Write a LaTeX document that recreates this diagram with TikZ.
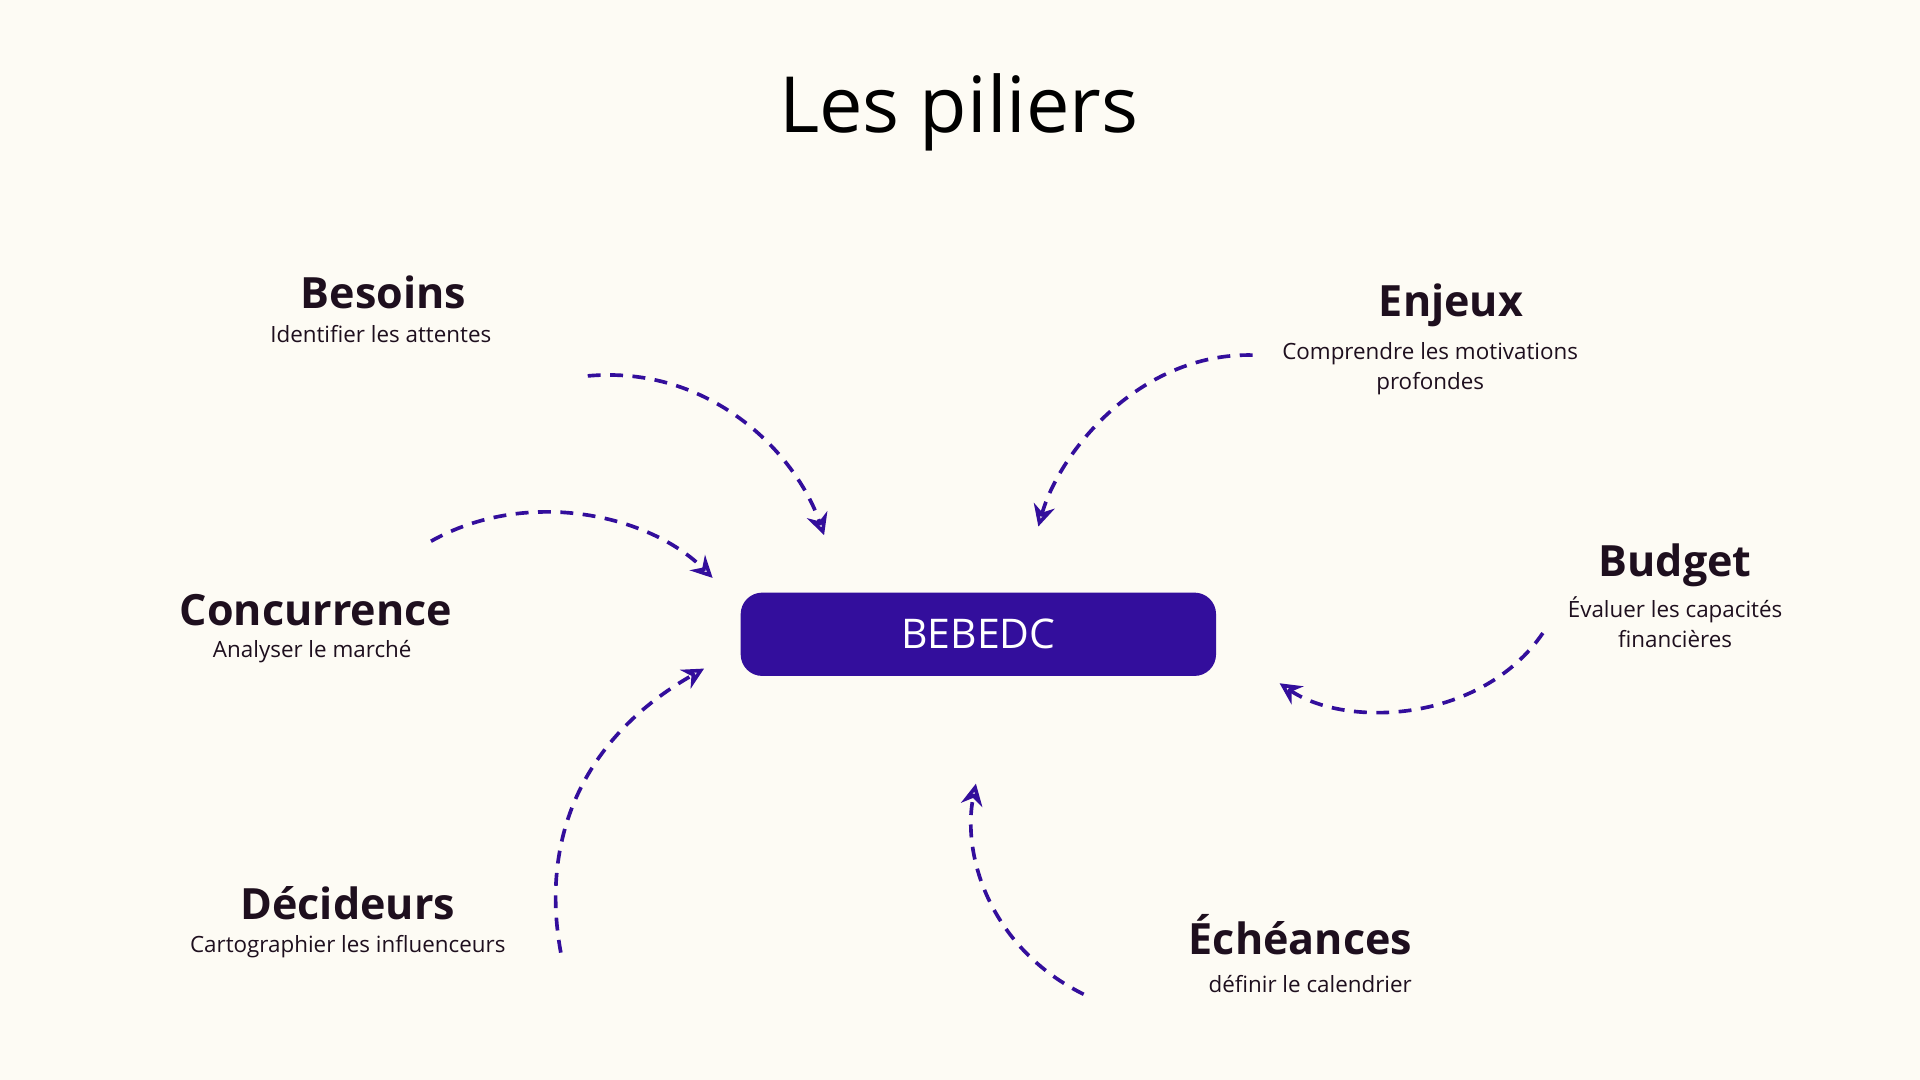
\documentclass[tikz,border=0pt]{standalone}
\usepackage{fontspec}
\setmainfont{Open Sans}
\usepackage{tikz}
\usetikzlibrary{arrows.meta,positioning,calc}
\definecolor{bg}{HTML}{FDFBF4}
\definecolor{ink}{HTML}{1E0F1E}
\definecolor{violet}{HTML}{330E9C}

\begin{document}
\begin{tikzpicture}[x=0.01cm, y=-0.01cm,
    pillar/.style={font=\fontsize{10}{12}\selectfont\bfseries, text=ink, inner sep=0pt},
    sub/.style={font=\fontsize{5.2}{6.9}\selectfont, text=ink, align=center, inner sep=0pt},
    arrow/.style={-{Stealth[open,length=5pt,width=5pt]}, violet, line width=0.85pt, dash pattern=on 3pt off 2.2pt}
]
\fill[bg] (0,0) rectangle (1568,882);
\useasboundingbox (0,0) rectangle (1568,882);

% Title and centre
\node[font=\fontsize{18}{20}\selectfont, text=black] (title) at (783,92) {Les piliers};
\node[fill=violet, rounded corners=5pt, minimum width=3.88cm, minimum height=0.68cm,
      text=white, font=\fontsize{9.5}{11}\selectfont] (core) at (799,518) {BEBEDC};

% Pillars
\node[pillar] (besoins) at (313,239) {Besoins};
\node[sub] (besoinsT) at (311,273) {Identifier les attentes};
\node[pillar] (enjeux) at (1185,249) {Enjeux};
\node[sub] (enjeuxT) at (1168,301) {Comprendre les motivations\\profondes};
\node[pillar] (budget) at (1368,462) {Budget};
\node[sub] (budgetT) at (1368,508) {Évaluer les capacités\\financières};
\node[pillar] (conc) at (258,498) {Concurrence};
\node[sub] (concT) at (255,532) {Analyser le marché};
\node[pillar] (decid) at (284,738) {Décideurs};
\node[sub] (decidT) at (284,773) {Cartographier les influenceurs};
\node[pillar] (echeances) at (1062,763) {Échéances};
\node[sub] (echeancesT) at (1070,804) {définir le calendrier};

% Arrow ends
\coordinate (a1) at (480,307); \coordinate (b1) at (673,437);
\coordinate (a2) at (1023,290); \coordinate (b2) at (848,430);
\coordinate (a3) at (352,442); \coordinate (b3) at (582,472);
\coordinate (a4) at (458,778); \coordinate (b4) at (575,546);
\coordinate (a5) at (1260,517); \coordinate (b5) at (1045,558);
\coordinate (a6) at (885,812); \coordinate (b6) at (797,640);

% Arrows
\draw[arrow] (a1) .. controls (580,298) and (650,370) .. (b1);
\draw[arrow] (a2) .. controls (930,288) and (865,370) .. (b2);
\draw[arrow] (a3) .. controls (430,398) and (530,420) .. (b3);
\draw[arrow] (a4) .. controls (440,680) and (480,600) .. (b4);
\draw[arrow] (a5) .. controls (1210,590) and (1100,595) .. (b5);
\draw[arrow] (a6) .. controls (810,775) and (785,700) .. (b6);

\end{tikzpicture}
\end{document}
